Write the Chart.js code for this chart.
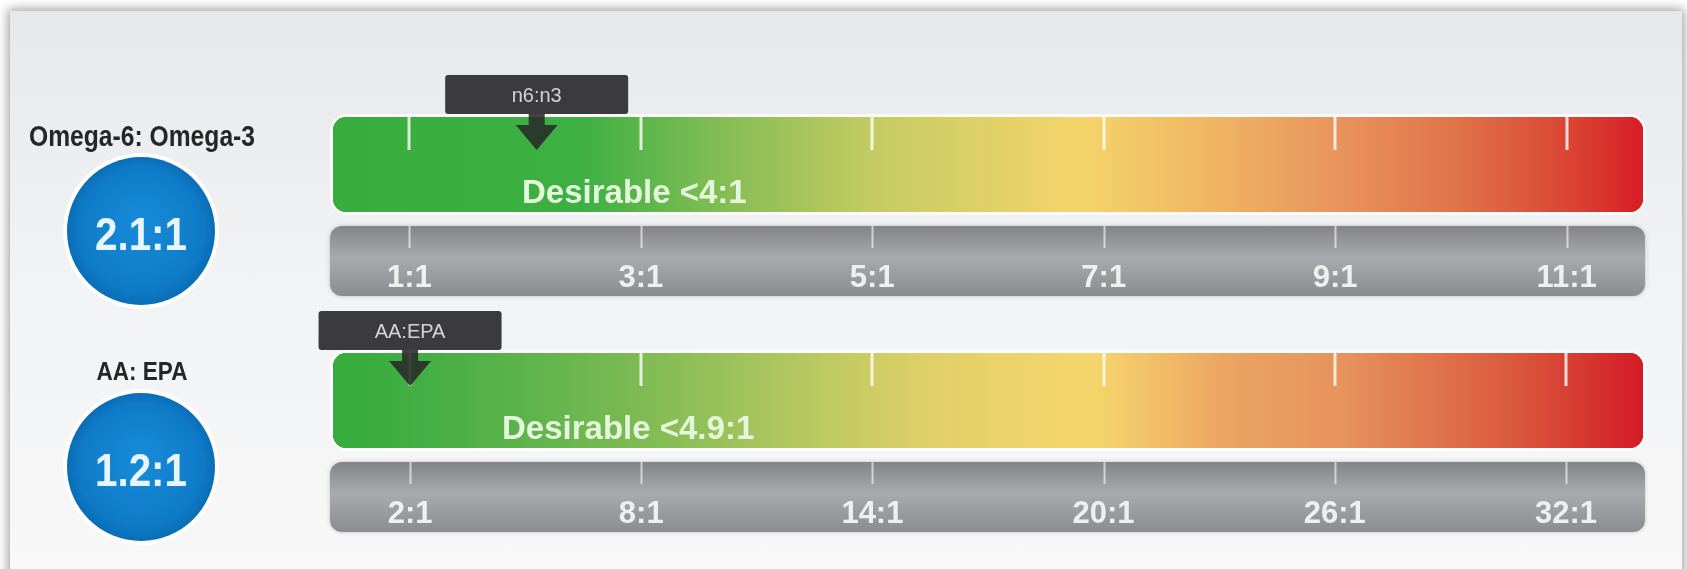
<!DOCTYPE html>
<html>
<head>
<meta charset="utf-8">
<script src="https://cdn.jsdelivr.net/npm/chart.js@4.4.1/dist/chart.umd.min.js"></script>
<style>
  html, body { margin: 0; padding: 0; background: #ffffff; width: 1687px; height: 569px; overflow: hidden; }
  #card {
    position: absolute; left: 10px; top: 11px; width: 1672px; height: 570px;
    background: linear-gradient(#e7e8ea, #f2f3f4 50%, #f8f8f9);
    box-shadow: 0 0 10px 2px rgba(0, 0, 0, 0.38);
  }
  .wrap { position: absolute; left: 0; width: 1687px; }
  #w1 { top: 0; height: 320px; }
  #w2 { top: 290px; height: 279px; }
</style>
</head>
<body>
<div id="card"></div>
<div class="wrap" id="w1"><canvas id="gauge1"></canvas></div>
<div class="wrap" id="w2"><canvas id="gauge2"></canvas></div>
<script>
// Dados
const gaugeTitles = ['Omega-6: Omega-3', 'AA: EPA'];
const badgeLabels = ['2.1:1', '1.2:1'];
const markerLabels = ['n6:n3', 'AA:EPA'];
const markerValues = [2.1, 2.0];
const desirableLabels = ['Desirable <4:1', 'Desirable <4.9:1'];
const tickValues1 = [1, 3, 5, 7, 9, 11];
const tickValues2 = [2, 8, 14, 20, 26, 32];
const scaleMin = [0.34, 0];
const scaleMax = [11.66, 34];

// Estilos
const gradientStops = [
  [[0, '#38ad3d'], [0.19, '#3eb043'], [0.30, '#86bd55'], [0.41, '#c3cb62'], [0.57, '#f5d56b'],
   [0.66, '#f0b963'], [0.76, '#e9975e'], [0.86, '#e07248'], [0.95, '#da4133'], [1, '#d81d26']],
  [[0, '#36ac3c'], [0.07, '#43ae45'], [0.22, '#78b951'], [0.33, '#a9c55e'], [0.45, '#dfd068'],
   [0.58, '#f6d66c'], [0.68, '#eca562'], [0.77, '#e6935c'], [0.9, '#da5a3e'], [1, '#d41b26']]
];
const textOffsets = [189, 169];
const tickFont = '"Liberation Sans", Arial, sans-serif';

function gradiente(chart, stops) {
  const a = chart.chartArea;
  if (!a) return stops[0][1];
  const g = chart.ctx.createLinearGradient(a.left, 0, a.right, 0);
  stops.forEach(s => g.addColorStop(s[0], s[1]));
  return g;
}

function roundRect(ctx, x, y, w, h, r) {
  ctx.beginPath();
  ctx.roundRect(x, y, w, h, r);
}

// texto comprimido na horizontal
function textoEstreito(ctx, txt, x, y, font, squeeze, color) {
  ctx.save();
  ctx.font = font;
  ctx.fillStyle = color;
  ctx.textAlign = 'center';
  ctx.textBaseline = 'alphabetic';
  ctx.translate(x, y);
  ctx.scale(squeeze, 1);
  ctx.fillText(txt, 0, 0);
  ctx.restore();
}

const gaugePlugin = {
  id: 'gauge',
  beforeDraw(chart, args, opts) {
    const { ctx, chartArea: a, scales: { x } } = chart;
    ctx.save();
    // contorno claro da barra colorida
    ctx.fillStyle = 'rgba(255,255,255,0.75)';
    roundRect(ctx, a.left - 3, a.top - 3, a.right - a.left + 6, a.bottom - a.top + 6, 17);
    ctx.fill();
    // barra cinza do eixo
    const top = a.bottom + 14, h = 70;
    const g = ctx.createLinearGradient(0, top, 0, top + h);
    g.addColorStop(0, '#838488');
    g.addColorStop(0.45, '#a9aaae');
    g.addColorStop(1, '#8b8c90');
    ctx.shadowColor = 'rgba(0,0,0,0.2)';
    ctx.shadowBlur = 4;
    ctx.fillStyle = g;
    roundRect(ctx, a.left - 3, top, a.right - a.left + 5, h, 12);
    ctx.fill();
    ctx.shadowBlur = 0;
    ctx.strokeStyle = 'rgba(255,255,255,0.6)';
    ctx.lineWidth = 2;
    x.ticks.forEach(t => {
      const px = Math.round(x.getPixelForValue(t.value)) + 0.5;
      ctx.beginPath();
      ctx.moveTo(px, top);
      ctx.lineTo(px, top + 22);
      ctx.stroke();
    });
    ctx.restore();
  },
  afterDatasetsDraw(chart, args, opts) {
    const { ctx, chartArea: a, scales: { x } } = chart;
    const i = opts.index;
    ctx.save();
    // marcas no topo da barra colorida
    ctx.strokeStyle = 'rgba(255,255,255,0.8)';
    ctx.lineWidth = 3;
    x.ticks.forEach(t => {
      const px = Math.round(x.getPixelForValue(t.value));
      ctx.beginPath();
      ctx.moveTo(px, a.top);
      ctx.lineTo(px, a.top + 33);
      ctx.stroke();
    });
    // texto "Desirable"
    ctx.font = 'bold 33px "Liberation Sans", Arial, sans-serif';
    ctx.fillStyle = '#e4f7dc';
    ctx.textAlign = 'left';
    ctx.textBaseline = 'alphabetic';
    ctx.fillText(desirableLabels[i], a.left + textOffsets[i], a.bottom - 9);

    // marcador
    const px = x.getPixelForValue(markerValues[i]);
    const bw = 183, bh = 39, by = a.top - 42;
    ctx.fillStyle = '#3b3a3e';
    roundRect(ctx, px - bw / 2, by, bw, bh, 3);
    ctx.fill();
    ctx.fillStyle = '#d4d4d4';
    ctx.font = '20px "Liberation Sans", Arial, sans-serif';
    ctx.textAlign = 'center';
    ctx.textBaseline = 'middle';
    ctx.fillText(markerLabels[i], px, by + 21);
    ctx.fillStyle = 'rgba(40,42,40,0.88)';
    ctx.beginPath();
    ctx.moveTo(px - 8, by + bh);
    ctx.lineTo(px + 8, by + bh);
    ctx.lineTo(px + 8, a.top + 8);
    ctx.lineTo(px + 21, a.top + 8);
    ctx.lineTo(px, a.top + 33);
    ctx.lineTo(px - 21, a.top + 8);
    ctx.lineTo(px - 8, a.top + 8);
    ctx.closePath();
    ctx.fill();
    ctx.restore();
  },
  afterDraw(chart, args, opts) {
    const { ctx, chartArea: a } = chart;
    const i = opts.index;
    const cx = 141, cy = a.top + 114, r = 74;
    // titulo
    if (i === 0) {
      textoEstreito(ctx, gaugeTitles[i], cx + 1, a.top + 29, 'bold 29px "Liberation Sans", Arial, sans-serif', 0.85, '#262626');
    } else {
      textoEstreito(ctx, gaugeTitles[i], cx + 1, a.top + 27, 'bold 25px "Liberation Sans", Arial, sans-serif', 0.9, '#262626');
    }
    // circulo
    ctx.save();
    ctx.fillStyle = 'rgba(255,255,255,0.85)';
    ctx.beginPath();
    ctx.arc(cx, cy, r + 4, 0, Math.PI * 2);
    ctx.fill();
    const g = ctx.createRadialGradient(cx, cy - 10, 10, cx, cy, r);
    g.addColorStop(0, '#1689d6');
    g.addColorStop(0.8, '#0f7bc8');
    g.addColorStop(1, '#0a6db6');
    ctx.fillStyle = g;
    ctx.beginPath();
    ctx.arc(cx, cy, r, 0, Math.PI * 2);
    ctx.fill();
    ctx.restore();
    textoEstreito(ctx, badgeLabels[i], cx, cy + 19, 'bold 47px "Liberation Sans", Arial, sans-serif', 0.86, '#e8f5ff');
  }
};

function criarGauge(canvasId, i, ticks, pad) {
  const ctx = document.getElementById(canvasId);
  return new Chart(ctx, {
    type: 'bar',
    data: {
      labels: ['range'],
      datasets: [{
        data: [[scaleMin[i], scaleMax[i]]],
        backgroundColor: c => gradiente(c.chart, gradientStops[i]),
        borderRadius: 14,
        borderSkipped: false,
        barPercentage: 1,
        categoryPercentage: 1
      }]
    },
    options: {
      indexAxis: 'y',
      responsive: true,
      maintainAspectRatio: false,
      animation: false,
      layout: { padding: pad },
      plugins: {
        legend: { display: false },
        tooltip: { enabled: false },
        gauge: { index: i }
      },
      scales: {
        y: { display: false },
        x: {
          type: 'linear',
          min: scaleMin[i],
          max: scaleMax[i],
          afterBuildTicks: ax => { ax.ticks = ticks.map(v => ({ value: v })); },
          afterFit: ax => { ax.height = 84; },
          grid: { display: false },
          border: { display: false },
          ticks: {
            autoSkip: false,
            maxRotation: 0,
            padding: 40,
            color: '#efefef',
            font: { family: tickFont, size: 31, weight: 'bold' },
            callback: v => v + ':1'
          }
        }
      }
    },
    plugins: [gaugePlugin]
  });
}

criarGauge('gauge1', 0, tickValues1, { left: 333, right: 44, top: 117, bottom: 24 });
criarGauge('gauge2', 1, tickValues2, { left: 333, right: 44, top: 63, bottom: 37 });
</script>
</body>
</html>
